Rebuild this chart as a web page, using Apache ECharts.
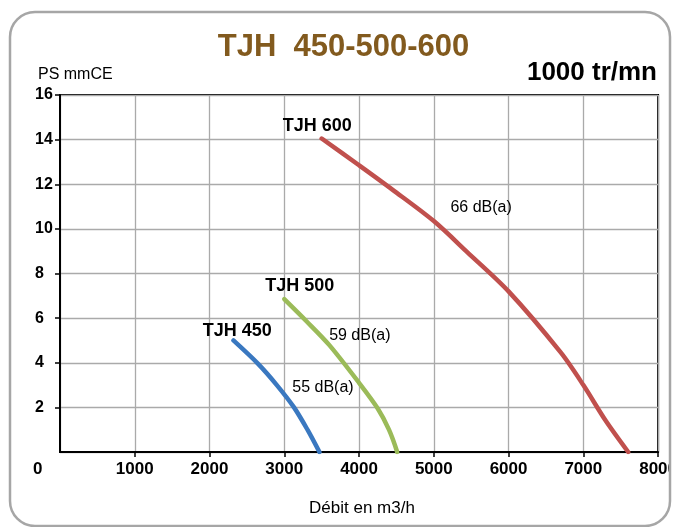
<!DOCTYPE html>
<html>
<head>
<meta charset="utf-8">
<script src="https://cdn.jsdelivr.net/npm/echarts@6/dist/echarts.min.js"></script>
<style>html,body{margin:0;padding:0;background:#fff}#c{width:680px;height:527px}</style>
</head>
<body>
<div id="c"></div>
<script>
// Data (m3/h, mmCE)
const tjh450 = [[2320,5.0],[2650,3.95],[2900,3.0],[3130,2.0],[3310,1.0],[3470,0]];
const tjh500 = [[3000,6.85],[3300,5.85],[3600,4.8],[4000,3.1],[4250,1.95],[4400,1.0],[4510,0]];
const tjh600 = [[3500,14.05],[4000,12.85],[4450,11.75],[5000,10.35],[5450,8.95],[6000,7.2],[6700,4.45],[7000,3.0],[7300,1.4],[7600,0]];
const seriesNames = ['TJH 450','TJH 500','TJH 600'];
const seriesColors = ['#3a78c0','#9bbb59','#c0504d'];
// Curve annotations: [x, y, text, bold]
const annotations = [
  [3447,14.57,'TJH 600',true],
  [5640,10.95,'66 dB(a)',false],
  [3213,7.41,'TJH 500',true],
  [4017,5.21,'59 dB(a)',false],
  [2377,5.39,'TJH 450',true],
  [3524,2.88,'55 dB(a)',false]
];
const xMin = 0, xMax = 8000, xStep = 1000;
const yMin = 0, yMax = 16, yStep = 2;

const FONT = '"Liberation Sans", Arial, sans-serif';
const chart = echarts.init(document.getElementById('c'), null, {renderer:'canvas'});
const curves = [tjh450, tjh500, tjh600].map((d,i)=>({
  type:'line', name:seriesNames[i], data:d, smooth:0.3, showSymbol:false, symbol:'none',
  lineStyle:{color:seriesColors[i], width:4.5, cap:'round'}, z:3, animation:false
}));
const labelSeries = {
  type:'scatter', symbolSize:1, itemStyle:{opacity:0}, silent:true, z:4, animation:false,
  data: annotations.map(a=>({value:[a[0],a[1]], name:a[2],
    label:{show:true, position:[0,0], align:'center', verticalAlign:'middle', formatter:a[2],
      color:'#000', textBorderWidth:0, opacity:1,
      fontFamily:FONT, fontSize:a[3]?18:16, fontWeight:a[3]?'bold':'normal'}}))
};
chart.setOption({
  backgroundColor:'#fff',
  animation:false,
  grid:{left:60, right:20, top:95, bottom:75, show:true, borderColor:'#000', borderWidth:2, backgroundColor:'transparent'},
  xAxis:{type:'value', min:xMin, max:xMax, interval:xStep,
    axisLine:{show:true, lineStyle:{color:'#000', width:2}},
    axisTick:{show:true, length:5, lineStyle:{color:'#000', width:1.5}},
    splitLine:{show:true, lineStyle:{color:'#aaaaaa', width:1.3}},
    axisLabel:{showMinLabel:false, margin:9, color:'#000', fontFamily:FONT, fontSize:17, fontWeight:'bold', formatter:v=>String(v)}},
  yAxis:{type:'value', min:yMin, max:yMax, interval:yStep,
    axisLine:{show:true, lineStyle:{color:'#000', width:2}},
    axisTick:{show:true, length:5, lineStyle:{color:'#000', width:1.5}},
    splitLine:{show:true, lineStyle:{color:'#aaaaaa', width:1.3}},
    axisLabel:{showMinLabel:false, align:'left', margin:25, color:'#000', fontFamily:FONT, fontSize:16, fontWeight:'bold', formatter:v=>String(v)}},
  series:[...curves, labelSeries],
  graphic:[
    {type:'text', x:343.5, y:47.5, z:10, style:{text:'TJH  450-500-600', fill:'#825a1e', font:'bold 31px '+FONT, textAlign:'center', textVerticalAlign:'middle'}},
    {type:'text', x:657, y:73, z:10, style:{text:'1000 tr/mn', fill:'#000', font:'bold 26px '+FONT, textAlign:'right', textVerticalAlign:'middle'}},
    {type:'text', x:38, y:75, z:10, style:{text:'PS mmCE', fill:'#000', font:'16px '+FONT, textAlign:'left', textVerticalAlign:'middle'}},
    {type:'text', x:33, y:469, z:10, style:{text:'0', fill:'#000', font:'bold 17px '+FONT, textAlign:'left', textVerticalAlign:'middle'}},
    {type:'text', x:362, y:508, z:10, style:{text:'Débit en m3/h', fill:'#000', font:'17px '+FONT, textAlign:'center', textVerticalAlign:'middle'}},
    {type:'rect', z:20, shape:{x:671, y:0, width:20, height:527}, style:{fill:'#fff'}},
    {type:'rect', z:21, shape:{x:10, y:12, width:660, height:514, r:25}, style:{fill:'none', stroke:'#a6a6a6', lineWidth:2.5}}
  ]
});
</script>
</body>
</html>
